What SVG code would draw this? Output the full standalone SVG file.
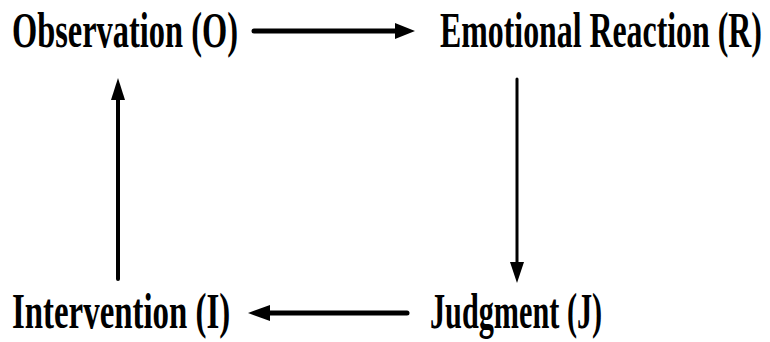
<svg xmlns="http://www.w3.org/2000/svg" width="770" height="342" viewBox="0 0 770 342">
<style>
.lbl{font-family:"Liberation Serif","DejaVu Serif",serif;font-weight:bold;font-size:50px;fill:#000}
.ln{stroke:#000;fill:none;stroke-linecap:round}
.hd{fill:#000}
</style>
<rect width="770" height="342" fill="#fff"/>
<g id="node-observation" transform="translate(12,47) scale(0.64,1)"><text class="lbl" x="0" y="0" textLength="353" lengthAdjust="spacingAndGlyphs">Observation (O)</text></g>
<g id="node-reaction" transform="translate(440,47) scale(0.64,1)"><text class="lbl" x="0" y="0" textLength="503" lengthAdjust="spacingAndGlyphs">Emotional Reaction (R)</text></g>
<g id="node-intervention" transform="translate(12,328) scale(0.64,1)"><text class="lbl" x="0" y="0" textLength="341" lengthAdjust="spacingAndGlyphs">Intervention (I)</text></g>
<g id="node-judgment" transform="translate(430,328) scale(0.64,1)"><text class="lbl" x="0" y="0" textLength="269" lengthAdjust="spacingAndGlyphs">Judgment (J)</text></g>
<g id="connectors">
<line class="ln" x1="254" y1="31" x2="398" y2="31" stroke-width="5"/>
<path class="hd" d="M395,23 L415,31 L395,39 Z"/>
<line class="ln" x1="517" y1="79" x2="517" y2="262" stroke-width="3"/>
<path class="hd" d="M510,262 L517,283 L524,262 Z"/>
<line class="ln" x1="407" y1="313" x2="266" y2="313" stroke-width="5"/>
<path class="hd" d="M270,305 L248,313 L270,321 Z"/>
<line class="ln" x1="118" y1="279" x2="118" y2="100" stroke-width="4"/>
<path class="hd" d="M111,100 L118,78 L125,100 Z"/>
</g>
</svg>
